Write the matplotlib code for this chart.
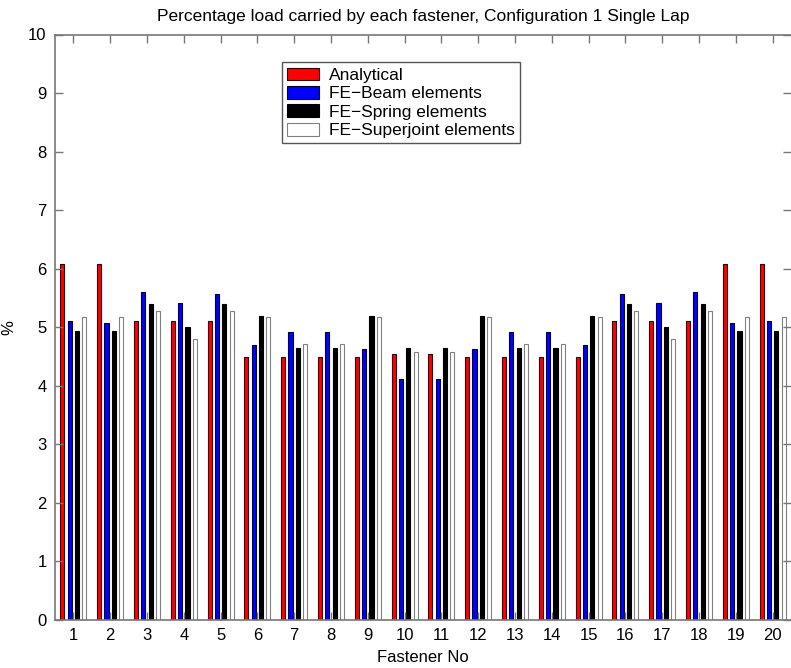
import matplotlib
matplotlib.use('Agg')
import matplotlib.pyplot as plt
import numpy as np

# values (percent load per fastener)
fasteners = list(range(1, 21))
analytical = [6.08, 6.08, 5.10, 5.10, 5.10, 4.50, 4.50, 4.50, 4.50, 4.55,
              4.55, 4.50, 4.50, 4.50, 4.50, 5.10, 5.10, 5.10, 6.08, 6.08]
fe_beam = [5.10, 5.08, 5.60, 5.42, 5.56, 4.69, 4.92, 4.92, 4.62, 4.12,
           4.12, 4.62, 4.92, 4.92, 4.69, 5.56, 5.42, 5.60, 5.08, 5.10]
fe_spring = [4.94, 4.94, 5.39, 5.01, 5.39, 5.20, 4.65, 4.65, 5.20, 4.64,
             4.64, 5.20, 4.65, 4.65, 5.20, 5.39, 5.01, 5.39, 4.94, 4.94]
fe_superjoint = [5.18, 5.18, 5.27, 4.80, 5.28, 5.18, 4.72, 4.72, 5.18, 4.58,
                 4.58, 5.18, 4.72, 4.72, 5.18, 5.28, 4.80, 5.27, 5.18, 5.18]

series = [
    ('Analytical', analytical, '#ff0000', '#300000'),
    ('FE\u2212Beam elements', fe_beam, '#0000ff', '#000030'),
    ('FE\u2212Spring elements', fe_spring, '#000000', '#000000'),
    ('FE\u2212Superjoint elements', fe_superjoint, '#ffffff', '#808080'),
]

plt.rcParams['font.family'] = ['Liberation Sans', 'DejaVu Sans']

fig = plt.figure(figsize=(7.91, 6.68), dpi=100)
ax = fig.add_axes([55 / 791, 48 / 668, 736 / 791, 585.5 / 668])

x = np.array(fasteners, dtype=float)
offsets = [-0.3, -0.1, 0.1, 0.3]
for (label, vals, face, edge), off in zip(series, offsets):
    ax.bar(x + off, vals, width=0.11, color=face, edgecolor=edge,
           linewidth=0.8, label=label)

ax.set_xlim(0.5, 20.5)
ax.set_ylim(0, 10)
ax.set_xticks(fasteners)
ax.set_yticks(range(0, 11))
ax.tick_params(direction='in', length=6, width=1, color='#777777',
               labelsize=12, top=True, right=True, pad=6)
for side in ['left', 'top', 'bottom']:
    ax.spines[side].set_color('#777777')
    ax.spines[side].set_linewidth(1.2)
ax.spines['right'].set_visible(False)

ax.set_title('Percentage load carried by each fastener, Configuration 1 Single Lap',
             fontsize=12.5, pad=10)
ax.set_xlabel('Fastener No', fontsize=12, labelpad=5)
ax.set_ylabel('%', fontsize=12)
ax.yaxis.set_label_coords(-0.052, 0.5)

leg = ax.legend(loc='upper left', bbox_to_anchor=(227 / 736, 1 - 28 / 585.5),
                fontsize=12.5, frameon=True, fancybox=False, framealpha=1,
                edgecolor='#555555', labelspacing=0.17, handlelength=1.85,
                handleheight=0.75, handletextpad=0.55, borderpad=0.3,
                borderaxespad=0)
leg.get_frame().set_linewidth(1.0)

fig.savefig('out.png', dpi=100)
